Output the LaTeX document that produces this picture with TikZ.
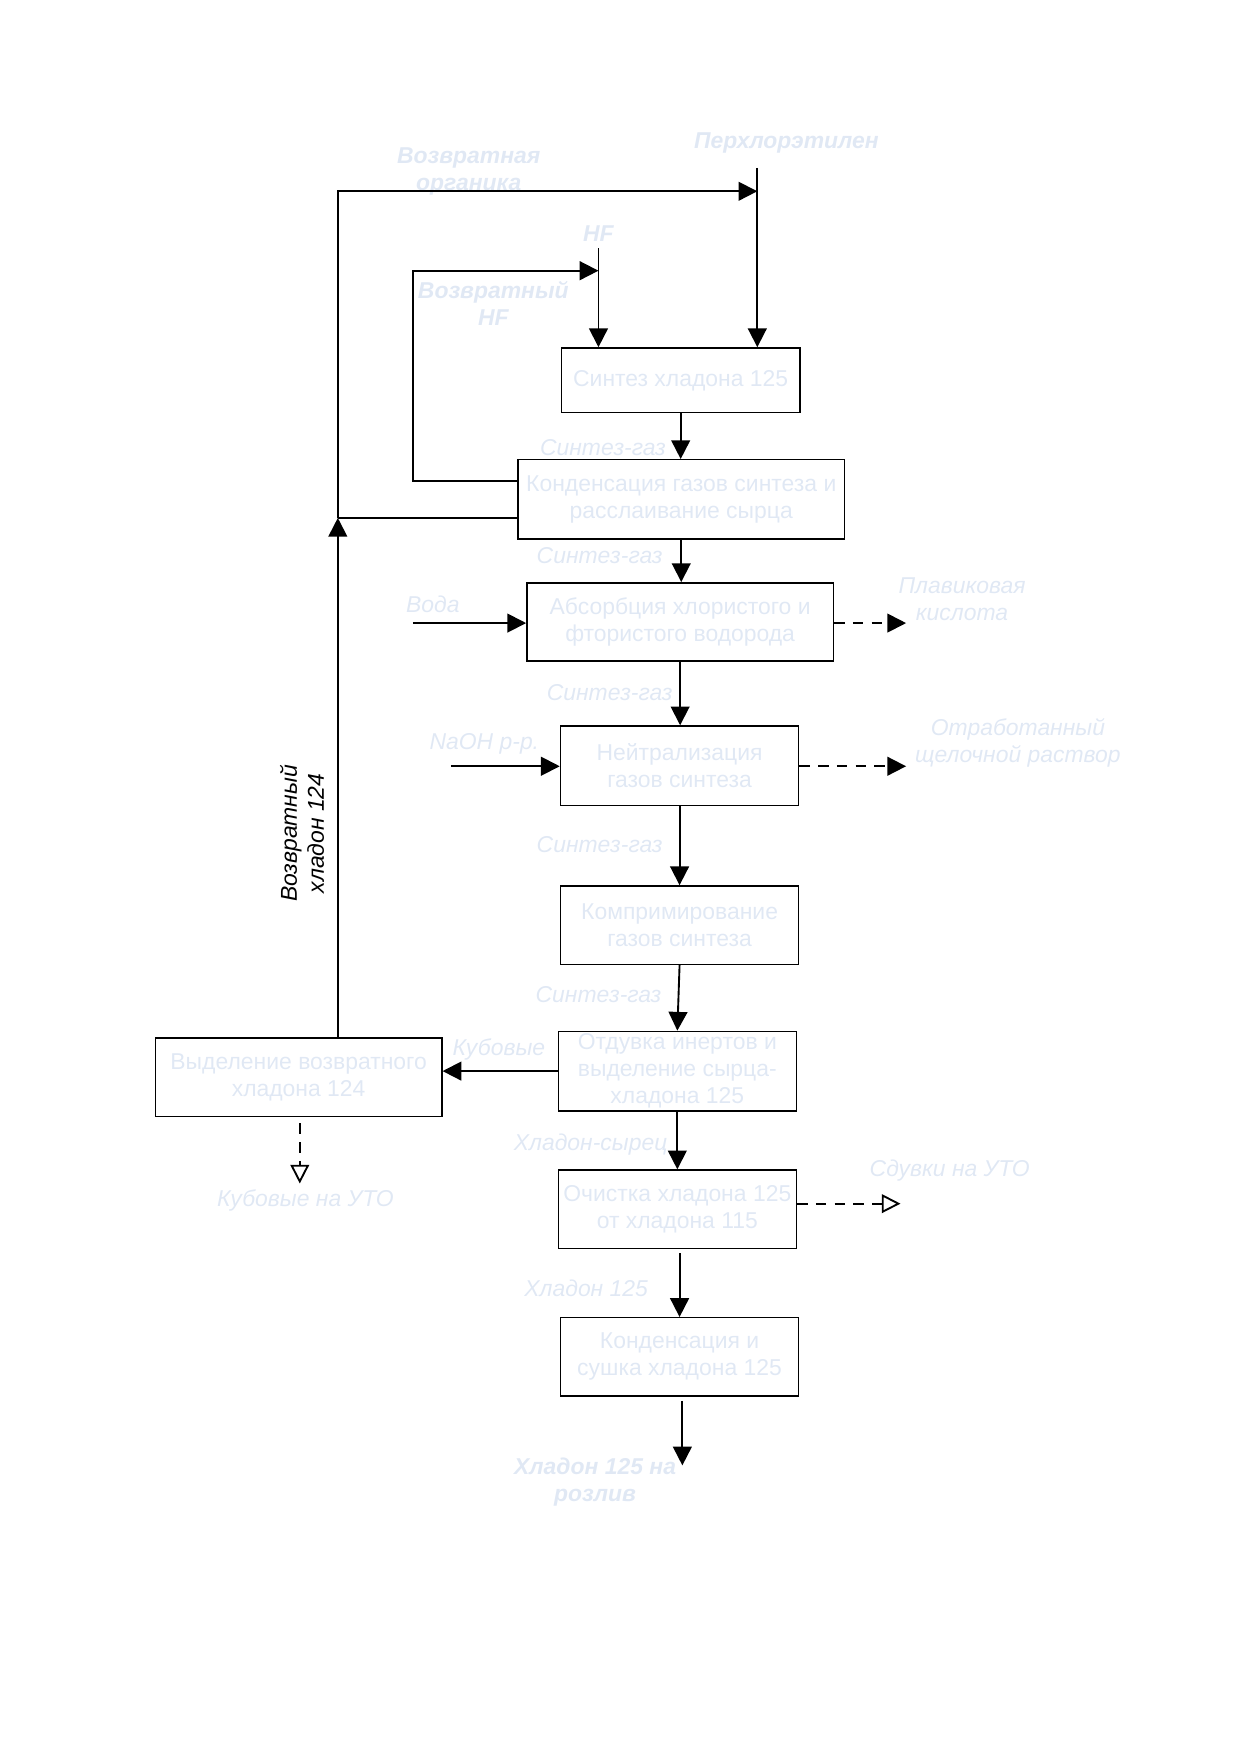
\documentclass[tikz,border=0pt]{standalone}
\usepackage{fontspec}
\setmainfont{Liberation Sans}
\usetikzlibrary{arrows.meta}
\definecolor{pale}{RGB}{224,232,244}

\begin{document}
\begin{tikzpicture}
[x=0.5368pt,y=-0.5368pt,
blackarrow/.style={-{Triangle[length=9pt,width=9pt]},black,line width=0.9pt},
blackline/.style={black,line width=0.9pt},
dashedarrow/.style={-{Triangle[length=9pt,width=9pt]},black,line width=0.9pt,dash pattern=on 5pt off 4pt},
openarrow/.style={-{Triangle[open,length=9pt,width=9pt]},black,line width=0.9pt,dash pattern=on 5pt off 4pt},
stage/.style={draw=black,line width=0.7pt,text=pale,align=center,inner sep=0pt,font=\fontsize{11}{13}\selectfont},
flow/.style={text=pale,align=center,font=\fontsize{11}{13}\selectfont\itshape},
feed/.style={text=pale,align=center,font=\fontsize{11}{13}\selectfont\bfseries\itshape}]

\useasboundingbox (0,0) rectangle (1109,1568);

% stages
\node[stage,minimum width=114.3pt,minimum height=31.1pt] (syn) at (608.5,340) {Синтез хладона 125};
\node[stage,minimum width=156.7pt,minimum height=38.1pt] (cond) at (609,446.5) {Конденсация газов синтеза и\\расслаивание сырца};
\node[stage,minimum width=147.1pt,minimum height=37.6pt] (abs) at (608,556) {Абсорбция хлористого и\\фтористого водорода};
\node[stage,minimum width=114.3pt,minimum height=38.1pt] (neut) at (607.5,684.5) {Нейтрализация\\газов синтеза};
\node[stage,minimum width=114.3pt,minimum height=37.6pt] (comp) at (607.5,827) {Компримирование\\газов синтеза};
\node[stage,minimum width=114.3pt,minimum height=38.1pt] (strip) at (605.5,957.5) {Отдувка инертов и\\выделение сырца-\\хладона 125};
\node[stage,minimum width=137.4pt,minimum height=37.6pt] (sep) at (267,963) {Выделение возвратного\\хладона 124};
\node[stage,minimum width=114.3pt,minimum height=37.6pt] (purif) at (605.5,1081) {Очистка хладона 125\\от хладона 115};
\node[stage,minimum width=114.3pt,minimum height=37.6pt] (dry) at (607.5,1213) {Конденсация и\\сушка хладона 125};

% feeds
\node[feed] (perch) at (703,128) {Перхлорэтилен};
\coordinate (perchtop) at (677,150);
\draw[blackarrow] (perchtop) -- (perchtop |- syn.north);
\node[feed] (hf) at (535,209) {HF};
\coordinate (hftop) at (535,222);
\draw[blackarrow] (hftop) -- (hftop |- syn.north);

% return organics
\node[feed] (orgret) at (419,153) {Возвратная\\органика};
\coordinate (orgin) at (677,171);
\coordinate (junc) at (302,463);
\draw[blackline] (cond.west |- junc) -- (junc);
\draw[blackarrow] (junc) -- (junc |- orgin) -- (orgin);

% return HF
\node[feed] (hfretlabel) at (441,271) {Возвратный\\HF};
\coordinate (hfin) at (535,242);
\coordinate (hfret) at (369,430);
\draw[blackarrow] (cond.west |- hfret) -- (hfret) -- (hfret |- hfin) -- (hfin);

% main line
\node[flow] (gas1) at (539,400) {Синтез-газ};
\draw[blackarrow] (syn.south) -- (syn.south |- cond.north);
\node[flow] (gas2) at (536,497) {Синтез-газ};
\draw[blackarrow] (cond.south) -- (cond.south |- abs.north);
\node[flow] (gas3) at (545,619) {Синтез-газ};
\draw[blackarrow] (abs.south) -- (abs.south |- neut.north);
\node[flow] (gas4) at (536,755) {Синтез-газ};
\draw[blackarrow] (neut.south) -- (neut.south |- comp.north);
\node[flow] (gas5) at (535,889) {Синтез-газ};
\draw[blackarrow] (comp.south) -- (strip.north);
\node[flow] (crude) at (528,1023) {Хладон-сырец};
\draw[blackarrow] (strip.south) -- (strip.south |- purif.north);
\node[flow] (r125) at (524,1152) {Хладон 125};
\draw[blackarrow] ([yshift=-2pt]purif.south -| dry.north) -- (dry.north);
\node[feed] (prod) at (532,1325) {Хладон 125 на\\розлив};
\coordinate (prodout) at (610,1310);
\draw[blackarrow] ([yshift=-2pt]dry.south -| prodout) -- (prodout);

% absorption
\node[flow] (water) at (387,540) {Вода};
\coordinate (water0) at (369,557);
\draw[blackarrow] (water0) -- (abs.west |- water0);
\node[flow] (acid) at (860,536) {Плавиковая\\кислота};
\coordinate (acidout) at (810,557);
\draw[dashedarrow] (abs.east |- acidout) -- (acidout);

% neutralisation
\node[flow] (naoh) at (433,665) {NaOH р-р.};
\coordinate (naoh0) at (403,685);
\draw[blackarrow] (naoh0) -- (neut.west |- naoh0);
\node[flow] (alkali) at (910,664) {Отработанный\\щелочной раствор};
\coordinate (alkout) at (810,685);
\draw[dashedarrow] (neut.east |- alkout) -- (alkout);

% still bottoms, freon 124
\node[flow] (kub) at (446,938) {Кубовые};
\draw[blackarrow] (strip.west) -- (strip.west -| sep.east);
\draw[blackarrow] (sep.north -| junc) -- (junc);
\node[rotate=90,align=center,font=\fontsize{11}{13}\selectfont\itshape] (ret124) at (270,745) {Возвратный\\хладон 124};
\node[flow] (kubuto) at (273,1073) {Кубовые на УТО};
\coordinate (kubout) at (268,1058);
\draw[openarrow] ([yshift=-3pt]sep.south -| kubout) -- (kubout);

% vents
\node[flow] (vent) at (849,1046) {Сдувки на УТО};
\coordinate (ventout) at (805,1076);
\draw[openarrow] (purif.east |- ventout) -- (ventout);

\end{tikzpicture}
\end{document}
